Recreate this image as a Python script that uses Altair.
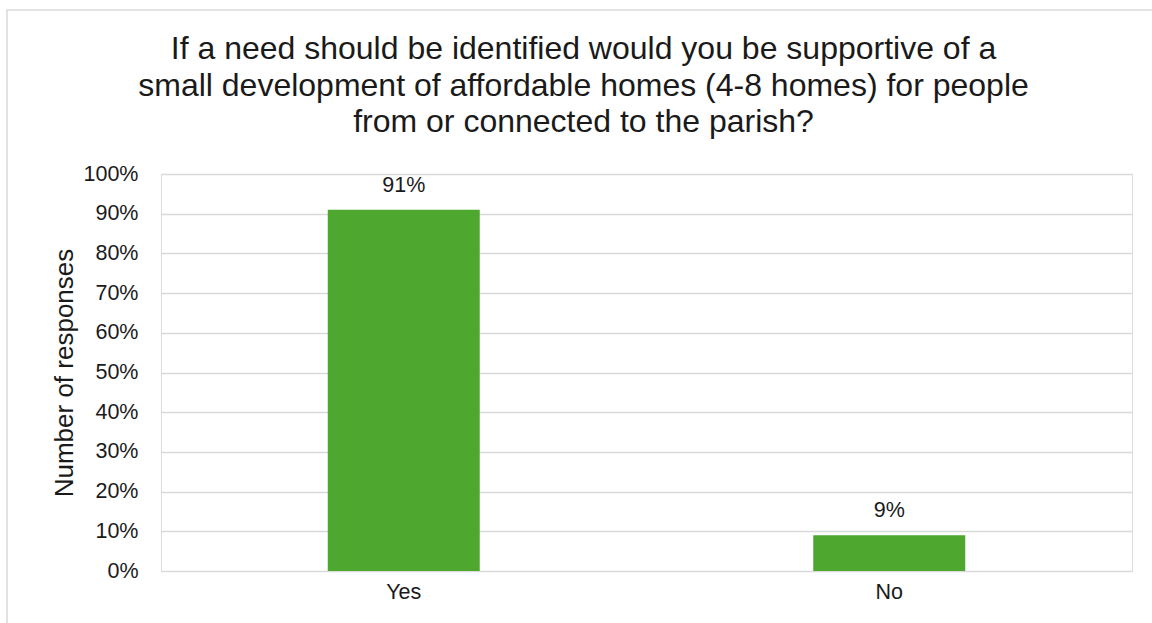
import altair as alt
import pandas as pd

categories = ["Yes", "No"]
shares = [0.91, 0.09]
y_ticks = [0, 0.1, 0.2, 0.3, 0.4, 0.5, 0.6, 0.7, 0.8, 0.9, 1.0]
title_lines = [
    "If a need should be identified would you be supportive of a",
    "small development of affordable homes (4-8 homes) for people",
    "from or connected to the parish?",
]
y_title = "Number of responses"

df = pd.DataFrame({"answer": categories, "share": shares})

FONT = "Liberation Sans"
TXT = "#1a1a1a"
GRID = "#d9d9d9"
GREEN = "#4EA72E"

x_enc = alt.X(
    "answer:N",
    sort=categories,
    title=None,
    scale=alt.Scale(paddingInner=0.687, paddingOuter=0.3435),
    axis=alt.Axis(
        labelAngle=0, domain=False, ticks=False, labelPadding=10,
        labelFontSize=21.5, labelFont=FONT, labelColor=TXT, grid=False,
    ),
)
y_enc = alt.Y(
    "share:Q",
    scale=alt.Scale(domain=[0, 1]),
    axis=alt.Axis(
        values=y_ticks, format=".0%", domain=False, ticks=False, labelOverlap=False,
        labelPadding=23, labelFontSize=21.5, labelFont=FONT, labelColor=TXT,
        gridColor=GRID, gridWidth=1.5,
        title=y_title, titleFont=FONT, titleFontSize=26, titleFontWeight="normal",
        titleColor=TXT, titleX=-89, titleBaseline="alphabetic",
    ),
)

base = alt.Chart(df).encode(x=x_enc, y=y_enc)
bars = base.mark_bar(color=GREEN)
labels = base.mark_text(
    baseline="alphabetic", dy=-18, fontSize=21.5, font=FONT, color=TXT
).encode(text=alt.Text("share:Q", format=".0%"))

frame = alt.Chart(alt.Data(values=[{}])).mark_rect(
    fill=None, stroke=GRID, strokeWidth=1.5
).encode(
    x=alt.value(-154), x2=alt.value(1000), y=alt.value(-164), y2=alt.value(460)
)

chart = alt.layer(frame, bars, labels).properties(
    width=971,
    height=397,
    autosize=alt.AutoSizeParams(type="none"),
    padding={"left": 161, "top": 174, "right": 20, "bottom": 52},
    title=alt.TitleParams(
        text=title_lines, font=FONT, fontSize=32, fontWeight="normal",
        color=TXT, anchor="middle", frame="group", dx=-63, offset=34,
        lineHeight=36.7, baseline="top", dy=164,
    ),
).configure_view(strokeWidth=0).configure(background="white")

chart.save("out.html", embed_options={"renderer": "svg", "actions": False})
